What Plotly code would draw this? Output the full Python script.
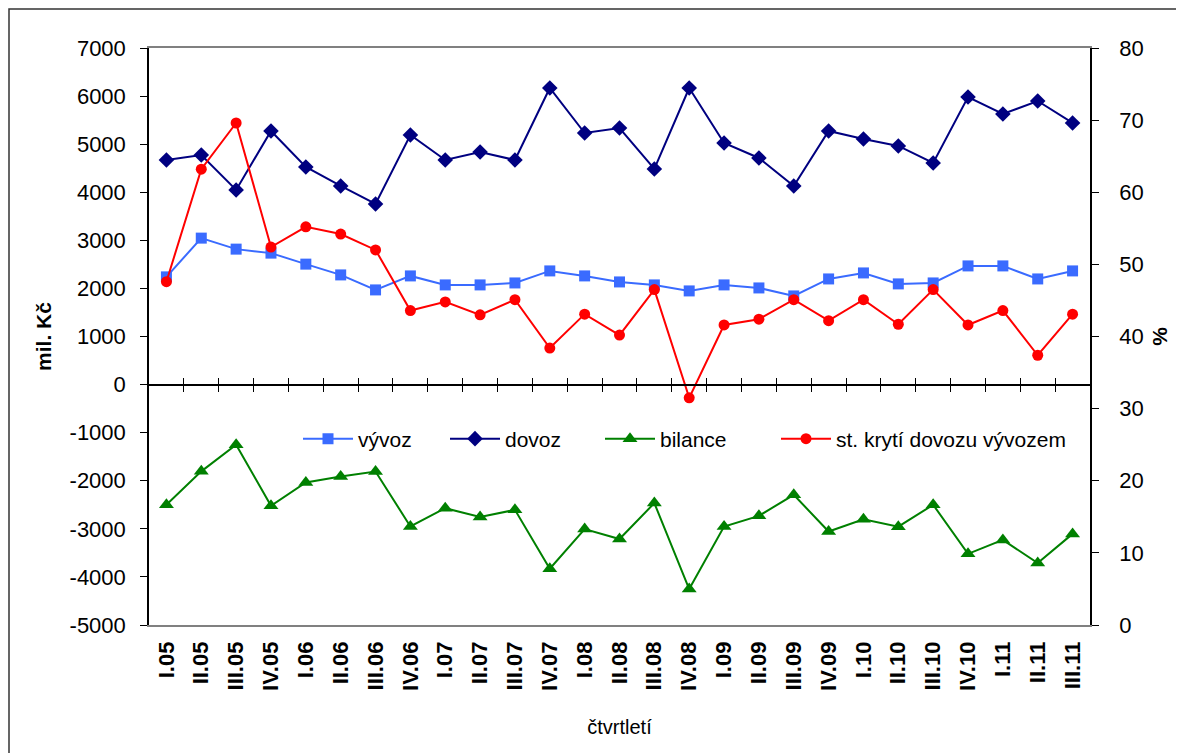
import plotly.graph_objects as go

quarters = ["I.05", "II.05", "III.05", "IV.05", "I.06", "II.06", "III.06", "IV.06",
            "I.07", "II.07", "III.07", "IV.07", "I.08", "II.08", "III.08", "IV.08",
            "I.09", "II.09", "III.09", "IV.09", "I.10", "II.10", "III.10", "IV.10",
            "I.11", "II.11", "III.11"]

vyvoz = [2240, 3046, 2817, 2734, 2505, 2281, 1969, 2260,
         2073, 2073, 2114, 2364, 2260, 2135, 2073, 1948,
         2073, 2010, 1844, 2197, 2322, 2094, 2114, 2468,
         2468, 2197, 2364]

dovoz = [4671, 4775, 4048, 5274, 4526, 4131, 3757, 5191,
         4671, 4838, 4671, 6168, 5232, 5336, 4484, 6168,
         5025, 4713, 4131, 5274, 5108, 4963, 4609, 5981,
         5628, 5898, 5441]

bilance = [-2500, -1805, -1250, -2520, -2035, -1912, -1808, -2950,
           -2570, -2755, -2605, -3830, -3005, -3212, -2465, -4252,
           -2952, -2730, -2293, -3055, -2800, -2955, -2500, -3520,
           -3230, -3712, -3105]

kryti = [47.6, 63.2, 69.6, 52.4, 55.2, 54.2, 52.0, 43.6,
         44.8, 43.0, 45.1, 38.4, 43.1, 40.2, 46.5, 31.5,
         41.6, 42.4, 45.1, 42.2, 45.1, 41.7, 46.5, 41.6,
         43.6, 37.4, 43.1]

left_ticks = list(range(-5000, 7001, 1000))
right_ticks = list(range(0, 81, 10))

FONT = "Liberation Sans, Arial, sans-serif"

# figure geometry (page body has an 8px margin)
W, H = 1184, 753
ML, MR, MT, MB = 141, 102, 40, 136
PW = W - ML - MR
PH = H - MT - MB


def px_x(px):
    return (px - 8 - ML) / PW


def px_y(py):
    return (H - MB - (py - 8)) / PH


fig = go.Figure()

fig.add_trace(go.Scatter(x=quarters, y=vyvoz, name="vývoz", mode="lines+markers",
                         line=dict(color="#3A6BFF", width=2),
                         marker=dict(symbol="square", size=11, color="#3A6BFF"),
                         legend="legend"))
fig.add_trace(go.Scatter(x=quarters, y=dovoz, name="dovoz", mode="lines+markers",
                         line=dict(color="#000080", width=2),
                         marker=dict(symbol="diamond", size=12, color="#000080"),
                         legend="legend2"))
fig.add_trace(go.Scatter(x=quarters, y=bilance, name="bilance", mode="lines+markers",
                         line=dict(color="#008000", width=2),
                         marker=dict(symbol="triangle-up", size=13, color="#008000"),
                         legend="legend3"))
fig.add_trace(go.Scatter(x=quarters, y=kryti, name="st. krytí dovozu vývozem", mode="lines+markers",
                         line=dict(color="#FF0000", width=2),
                         marker=dict(symbol="circle", size=11, color="#FF0000"),
                         yaxis="y2", legend="legend4"))
# empty helper traces so the zero-line axes are drawn
fig.add_trace(go.Scatter(x=[], y=[], xaxis="x2", showlegend=False, hoverinfo="skip"))
fig.add_trace(go.Scatter(x=[], y=[], xaxis="x3", showlegend=False, hoverinfo="skip"))

n = len(quarters)
bounds = [i + 0.5 for i in range(n - 1)]
zero_pos = 5000 / 12000


def leg(px):
    return dict(orientation="h", x=px_x(px), y=px_y(439), xanchor="left", yanchor="middle",
                bgcolor="rgba(0,0,0,0)", font=dict(size=21, family=FONT), itemwidth=50)


fig.update_layout(
    width=W, height=H,
    margin=dict(l=ML, r=MR, t=MT, b=MB),
    paper_bgcolor="white", plot_bgcolor="white",
    font=dict(family=FONT, size=21, color="black"),
    showlegend=True,
    legend=leg(298),
    legend2=leg(445),
    legend3=leg(600),
    legend4=leg(776),
    xaxis=dict(type="category", range=[-0.5, n - 0.5], tickangle=-90,
               tickfont=dict(size=22, family=FONT, weight="bold"),
               showline=True, linecolor="#808080", linewidth=1.5, mirror=True,
               ticks="", showgrid=False, zeroline=False, ticklabelstandoff=6,
               title=dict(text="čtvrtletí", font=dict(size=20), standoff=30)),
    xaxis2=dict(overlaying="x", anchor="free", position=zero_pos, type="linear",
                range=[-0.5, n - 0.5], tickvals=bounds, ticks="inside", ticklen=6,
                tickcolor="black", showticklabels=False, showline=True,
                linecolor="black", linewidth=1.5, showgrid=False, zeroline=False),
    xaxis3=dict(overlaying="x", anchor="free", position=zero_pos, type="linear",
                range=[-0.5, n - 0.5], tickvals=bounds, ticks="outside", ticklen=6,
                tickcolor="black", showticklabels=False, showline=False,
                showgrid=False, zeroline=False),
    yaxis=dict(range=[-5000, 7000], tickvals=left_ticks,
               ticktext=[str(v) for v in left_ticks],
               ticks="outside", ticklen=7,
               tickcolor="black", showline=True, linecolor="black", linewidth=1.5,
               showgrid=False, zeroline=False, tickfont=dict(size=22),
               ticklabelstandoff=10,
               title=dict(text="mil. Kč", font=dict(size=21, weight="bold"), standoff=12)),
    yaxis2=dict(range=[0, 80], tickvals=right_ticks, overlaying="y", side="right",
                ticks="outside", ticklen=7, tickcolor="black", showline=True,
                linecolor="black", linewidth=1.5, showgrid=False, zeroline=False,
                tickfont=dict(size=22), ticklabelstandoff=16,
                title=dict(text="%", font=dict(size=21, weight="bold"), standoff=10)),
    shapes=[dict(type="rect", xref="paper", yref="paper",
                 x0=px_x(9), x1=1.6, y0=-1.0, y1=px_y(9),
                 line=dict(color="#333333", width=1.5), layer="below")],
)

fig.write_html("out.html")
